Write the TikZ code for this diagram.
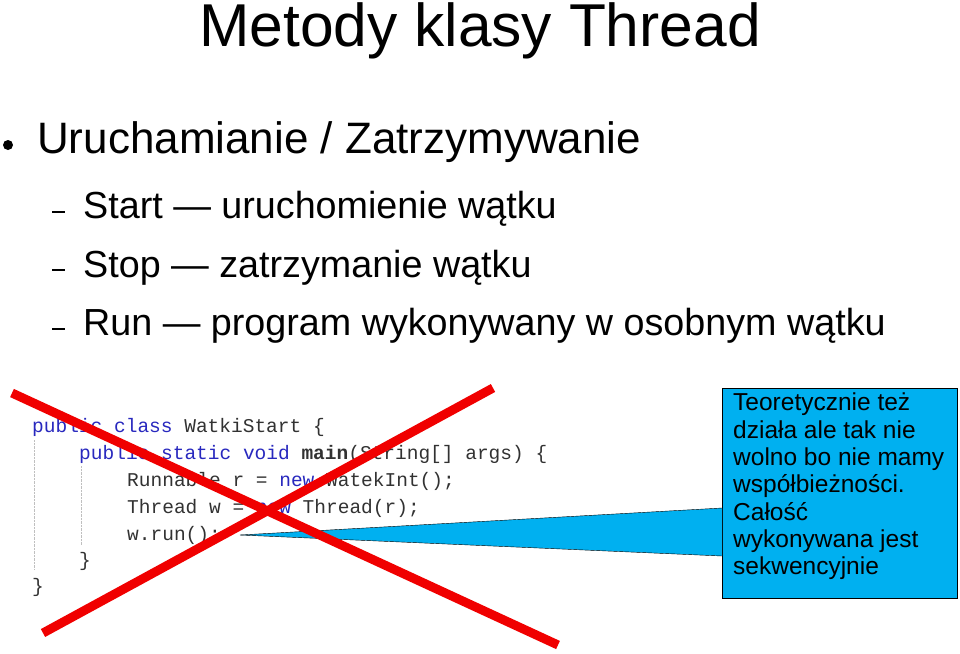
\documentclass[tikz,border=0pt]{standalone}
\usepackage{fontspec}
\setmainfont{Liberation Sans}
\setmonofont{Liberation Mono}
\usepackage{tikz}
\definecolor{kwblue}{RGB}{40,40,190}
\definecolor{codegray}{RGB}{50,50,50}
\definecolor{calloutblue}{RGB}{0,176,240}
\definecolor{crossred}{RGB}{240,0,0}

\begin{document}
\begin{tikzpicture}[x=1pt,y=-1pt]

	\tikzstyle{title_text}=[anchor=base, inner sep=0, font=\fontsize{60.5}{70}\selectfont]
	\tikzstyle{item_text}=[anchor=base west, font=\fontsize{44}{50}\selectfont]
	\tikzstyle{subitem_text}=[anchor=base west, font=\fontsize{37.7}{44}\selectfont]
	\tikzstyle{code_line}=[anchor=base west, inner sep=0, text=codegray, font=\ttfamily\fontsize{19.5}{22}\selectfont]
	\tikzstyle{cross_line}=[draw=crossred, line width=9pt]
	\tikzstyle{callout_box}=[fill=calloutblue, draw=black, thin]

	\useasboundingbox (0,0) rectangle (960,653);

	\node[title_text] at (480, 46) (title) {Metody klasy Thread};

	\fill (8, 145) circle (5);
	\node[item_text, inner sep=0] at (37, 153) (item_main) {Uruchamianie / Zatrzymywanie};
	\node[subitem_text, inner sep=0] at (83, 218) (item_start) {Start --- uruchomienie wątku};
	\node[subitem_text, inner sep=0] at (83, 277) (item_stop) {Stop --- zatrzymanie wątku};
	\node[subitem_text, inner sep=0] at (83, 335) (item_run) {Run --- program wykonywany w osobnym wątku};
	\foreach \y in {212, 270, 329}
		\draw[line width=1.2pt] (52, \y) -- (65, \y);

	% code listing
	\node[code_line] at (32, 432) (code_1) {\textcolor{kwblue}{public class} WatkiStart \{};
	\node[code_line] at (79, 459) (code_2) {\textcolor{kwblue}{public static void} \textbf{main}(String[] args) \{};
	\node[code_line] at (127, 486) (code_3) {Runnable r = \textcolor{kwblue}{new} WatekInt();};
	\node[code_line] at (127, 513) (code_4) {Thread w = \textcolor{kwblue}{new} Thread(r);};
	\node[code_line] at (127, 540) (code_5) {w.run();};
	\node[code_line] at (79, 566) (code_6) {\}};
	\node[code_line] at (32, 592) (code_7) {\}};
	\draw[gray!50, densely dotted] (34, 440) -- (34, 570);
	\draw[gray!50, densely dotted] (81, 466) -- (81, 545);

	% callout
	\coordinate (callout_tip) at (240, 535);
	\node[callout_box, minimum width=235, minimum height=210, anchor=north west, inner sep=0] at (722, 388) (callout) {};
	\fill[calloutblue] (callout_tip) -- (722, 508) -- (722, 556) -- cycle;
	\draw[thin] (callout_tip) -- (722, 508);
	\draw[thin] (callout_tip) -- (722, 556);
	\node[anchor=north west, align=left, inner sep=0, font=\fontsize{24.5}{27.3}\selectfont] at (733, 393) (callout_text)
		{Teoretycznie też\\działa ale tak nie\\wolno bo nie mamy\\współbieżności.\\Całość\\wykonywana jest\\sekwencyjnie};

	% cross
	\coordinate (cross_a) at (12, 393);
	\coordinate (cross_b) at (558, 645);
	\coordinate (cross_c) at (43, 633);
	\coordinate (cross_d) at (493, 388);
	\draw[cross_line] (cross_a) -- (cross_b);
	\draw[cross_line] (cross_c) -- (cross_d);
\end{tikzpicture}
\end{document}
